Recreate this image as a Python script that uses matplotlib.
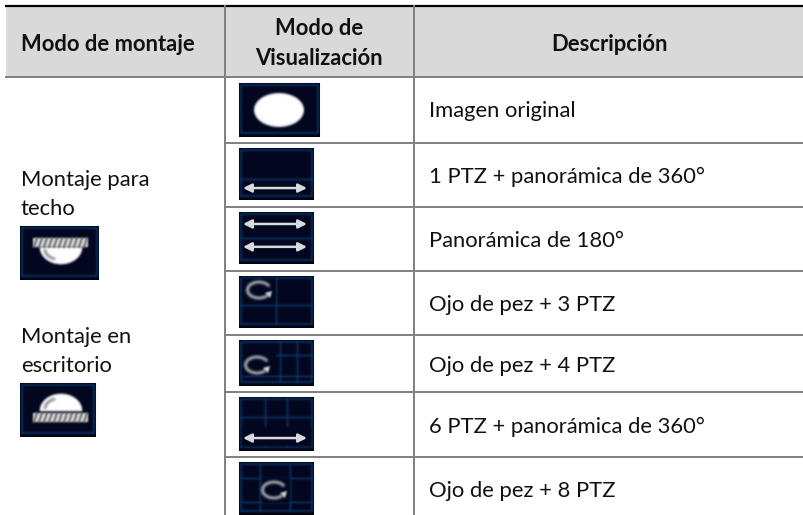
import numpy as np
import matplotlib
matplotlib.use("Agg")
from matplotlib import pyplot as plt
from matplotlib.patches import Rectangle, Ellipse, Polygon, Arc

plt.rcParams['font.family'] = ['Lato', 'DejaVu Sans']

# table content
headers = ["Modo de montaje", "Modo de\nVisualización", "Descripción"]
descriptions = ["Imagen original", "1 PTZ + panorámica de 360°", "Panorámica de 180°",
                "Ojo de pez + 3 PTZ", "Ojo de pez + 4 PTZ",
                "6 PTZ + panorámica de 360°", "Ojo de pez + 8 PTZ"]
mounts = ["Montaje para\ntecho", "Montaje en\nescritorio"]

# layout, in pixels of the 804x515 picture
W, H = 804, 515
left, col1, col2, right = 6, 225, 414, 803
top, head_bottom = 6, 77
row_lines = [143, 207, 271, 335, 392, 457]
row_baselines = [117, 183, 247, 311, 372, 433, 497]
icon_boxes = [(239, 83, 320, 137), (239, 148, 314, 200), (239, 212, 314, 264),
              (239, 276, 314, 328), (239, 340, 314, 386), (239, 397, 314, 451),
              (239, 462, 314, 515)]
GREY = "#7f7f7f"
NAVY = "#02071f"
EDGE = "#0c3a70"
GRID = "#0e3c74"
LIGHT = "#d5dbdc"
TXT = "#111111"
FS = 15.8

fig = plt.figure(figsize=(W / 100, H / 100), dpi=100)
ax = fig.add_axes([0, 0, 1, 1])
ax.set_xlim(0, W)
ax.set_ylim(H, 0)
ax.axis("off")


def blur(image, dpi):
    # small gaussian so the icons look like the scaled screenshots they came from
    pad = 4
    kernel = np.array([1, 6, 10, 6, 1], dtype=float)
    kernel /= kernel.sum()
    img = np.pad(image, ((pad, pad), (pad, pad), (0, 0)))
    img[..., :3] *= img[..., 3:4]
    for axis in (0, 1):
        img = np.apply_along_axis(lambda m: np.convolve(m, kernel, mode="same"), axis, img)
    alpha = np.clip(img[..., 3:4], 1e-4, 1)
    img[..., :3] = np.clip(img[..., :3] / alpha, 0, 1)
    return img, -pad, -pad


def base_icon(box):
    x0, y0, x1, y1 = box
    ax.add_patch(Rectangle((x0, y0), x1 - x0, y1 - y0, fc="#01030f", ec="none", zorder=2))
    ax.add_patch(Rectangle((x0 + 2, y0 + 1.5), x1 - x0 - 4, y1 - y0 - 6, fc=NAVY, ec=EDGE, lw=1.2, zorder=3))


def hline(box, f):
    x0, y0, x1, y1 = box
    y = y0 + f * (y1 - y0)
    ax.plot([x0 + 2, x1 - 2], [y, y], color=GRID, lw=1, zorder=3.5)


def vline(box, f):
    x0, y0, x1, y1 = box
    x = x0 + f * (x1 - x0)
    ax.plot([x, x], [y0 + 2, y1 - 4], color=GRID, lw=1, zorder=3.5)


def arrow(box, f):
    x0, y0, x1, y1 = box
    y = y0 + f * (y1 - y0)
    ann = ax.annotate("", xy=(x0 + 4, y), xytext=(x1 - 7, y), zorder=4,
                      arrowprops=dict(arrowstyle="<|-|>,head_length=0.5,head_width=0.25", color=LIGHT,
                                      lw=1.8, shrinkA=0, shrinkB=0))
    ann.arrow_patch.set_agg_filter(blur)


def curl(cx, cy):
    ax.add_patch(Arc((cx, cy), 23, 16, theta1=30, theta2=340, color=LIGHT, lw=1.7, zorder=4))
    ax.add_patch(Polygon([(cx + 6, cy + 3), (cx + 13, cy + 1), (cx + 11, cy + 8)], fc=LIGHT, ec="none", zorder=4))


# header band and table rules
ax.add_patch(Rectangle((left, top), right - left, head_bottom - top, fc="#d9d9d9", ec="none", zorder=0))
ax.plot([left, right], [top, top], color="black", lw=1.6, zorder=1)
ax.plot([left, right], [head_bottom, head_bottom], color=GREY, lw=1.4, zorder=1)
for y in row_lines:
    ax.plot([col1, right], [y, y], color=GREY, lw=1.4, zorder=1)
for x in [col1, col2]:
    ax.plot([x, x], [top, H], color=GREY, lw=1.4, zorder=1)

bold = dict(va="baseline", fontsize=FS, fontweight="bold", color=TXT)
ax.text(21, 51, headers[0], ha="left", **bold)
for y, line in zip([35, 65], headers[1].split("\n")):
    ax.text(319, y, line, ha="center", **bold)
ax.text(610, 51, headers[2], ha="center", **bold)

plain = dict(ha="left", va="baseline", fontsize=FS, color=TXT)
for y, d in zip(row_baselines, descriptions):
    ax.text(429, y, d, **plain)
for y, line in zip([186, 215], mounts[0].split("\n")):
    ax.text(21, y, line, **plain)
for y, line in zip([343, 372], mounts[1].split("\n")):
    ax.text(21, y, line, **plain)

# display mode icons
for box in icon_boxes:
    base_icon(box)
ax.add_patch(Ellipse((279, 110), 49, 33, fc="white", ec="#dfe4ea", lw=0.8, zorder=4))
hline(icon_boxes[1], 0.6)
arrow(icon_boxes[1], 0.77)
hline(icon_boxes[2], 0.5)
arrow(icon_boxes[2], 0.23)
arrow(icon_boxes[2], 0.67)
vline(icon_boxes[3], 0.5)
hline(icon_boxes[3], 0.55)
ax.add_patch(Rectangle((243, 279), 32, 24, fc=NAVY, ec="none", zorder=3.6))
curl(259, 290)
hline(icon_boxes[4], 0.33)
hline(icon_boxes[4], 0.78)
vline(icon_boxes[4], 0.55)
vline(icon_boxes[4], 0.77)
ax.add_patch(Rectangle((243, 352), 33, 22, fc=NAVY, ec="none", zorder=3.6))
curl(257, 365)
vline(icon_boxes[5], 0.35)
vline(icon_boxes[5], 0.64)
hline(icon_boxes[5], 0.37)
ax.add_patch(Rectangle((242, 427), 69, 19, fc=NAVY, ec="none", zorder=3.6))
arrow(icon_boxes[5], 0.76)
vline(icon_boxes[6], 0.28)
vline(icon_boxes[6], 0.68)
hline(icon_boxes[6], 0.3)
hline(icon_boxes[6], 0.75)
ax.add_patch(Rectangle((262, 477), 28, 26, fc=NAVY, ec="none", zorder=3.6))
curl(274, 490)


# mount icons
def mount_icon(box, bar_y, dome_y, up):
    x0, y0, x1, y1 = box
    base_icon(box)
    cx = 61
    t = np.linspace(0, np.pi, 40)
    sign = -1 if up else 1
    dome = np.column_stack([cx + 21 * np.cos(t), dome_y + sign * 17 * np.sin(t)])
    ax.add_patch(Polygon(dome, fc="white", ec="#dfe4ea", lw=0.6, zorder=4))
    ax.add_patch(Rectangle((33, bar_y), 55, 9, fc="#e0e0e0", ec="none", zorder=5))
    for x in np.arange(33, 86, 5):
        ax.plot([x + 4, x + 1], [bar_y, bar_y + 9], color="#555555", lw=1.3, zorder=6)
    # shine on the dome
    ax.add_patch(Arc((cx - 4, dome_y + sign * 2), 24, 20, theta1=180 if up else 100, theta2=260 if up else 180,
                     color="#444444", lw=1.2, zorder=6))


mount_icon((20, 226, 99, 280), 238, 247, False)
mount_icon((20, 383, 96, 437), 413, 411, True)

for artist in ax.patches + ax.lines:
    if artist.get_zorder() >= 3:
        artist.set_agg_filter(blur)

fig.savefig("out.png", dpi=100)
